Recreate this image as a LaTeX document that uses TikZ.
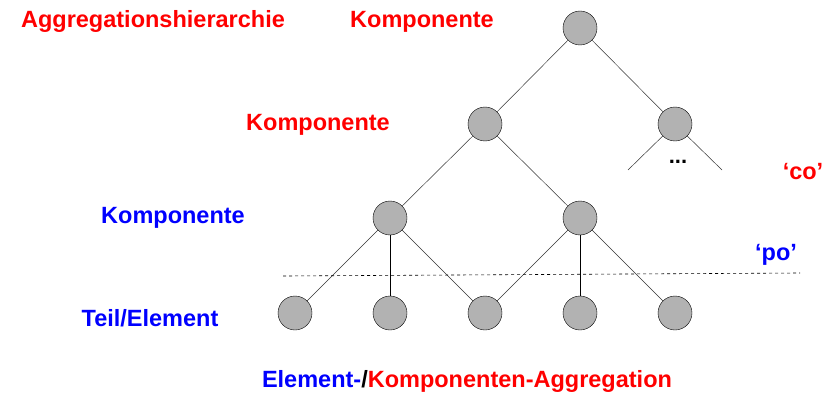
\documentclass[tikz,border=0pt]{standalone}
\usepackage{fontspec}
\setmainfont{Liberation Sans}
\usepackage{tikz}
\usetikzlibrary{positioning, calc}
\definecolor{aggred}{HTML}{FF0000}
\definecolor{aggblue}{HTML}{0000FF}
\definecolor{knotengray}{HTML}{B2B2B2}

\begin{document}
\begin{tikzpicture}[x=1pt, y=-1pt, line join=round,
        knoten/.style={circle, draw, fill=knotengray, minimum size=34pt, inner sep=0pt},
        kante/.style={draw, line width=0.5pt, black!80},
        senk/.style={draw, line width=0.9pt},
        label/.style={font=\fontsize{23.5}{27}\selectfont\bfseries, inner sep=0pt}]
        \useasboundingbox (0,0) rectangle (837,393);
        % Baum
        \node[knoten] (wurzel) at (580, 28) {};
        \node[knoten] (ka) at (485, 124) {};
        \node[knoten] (kb) at (675, 124) {};
        \node[knoten] (kc) at (390, 218) {};
        \node[knoten] (kd) at (580, 218) {};
        \node[knoten] (t1) at (295, 313) {};
        \node[knoten] (t2) at (390, 313) {};
        \node[knoten] (t3) at (485, 313) {};
        \node[knoten] (t4) at (580, 313) {};
        \node[knoten] (t5) at (675, 313) {};
        \coordinate (offenl) at (628, 170);
        \coordinate (offenr) at (722, 170);
        \draw[kante] (wurzel) -- (ka);
        \draw[kante] (wurzel) -- (kb);
        \draw[kante] (ka) -- (kc);
        \draw[kante] (ka) -- (kd);
        \draw[kante] (kb) -- (offenl);
        \draw[kante] (kb) -- (offenr);
        \draw[kante] (kc) -- (t1);
        \draw[senk] (kc) -- (t2);
        \draw[kante] (kc) -- (t3);
        \draw[kante] (kd) -- (t3);
        \draw[senk] (kd) -- (t4);
        \draw[kante] (kd) -- (t5);
        \node[font=\fontsize{22}{24}\selectfont\bfseries, inner sep=0pt] (punkte) at (678, 162) {...};
        % Trennlinie
        \coordinate (po1) at (283, 276);
        \coordinate (po2) at (800, 273);
        \draw[dashed, line width=0.6pt] (po1) -- (po2);
        % Beschriftungen
        \node[label, aggred] (titel) at (153, 21) {Aggregationshierarchie};
        \node[label, aggred] (komp1) at (422, 22) {Komponente};
        \node[label, aggred] (komp2) at (318, 125) {Komponente};
        \node[label, aggblue] (komp3) at (173, 218) {Komponente};
        \node[label, aggblue] (teil) at (150, 318) {Teil/Element};
        \node[label, aggred] (co) at (803, 172) {‘co’};
        \node[label, aggblue] (po) at (776, 255) {‘po’};
        \node[label] (unten) at (467, 381)
            {\textcolor{aggblue}{Element-}/\textcolor{aggred}{Komponenten-Aggregation}};
    \end{tikzpicture}
\end{document}
